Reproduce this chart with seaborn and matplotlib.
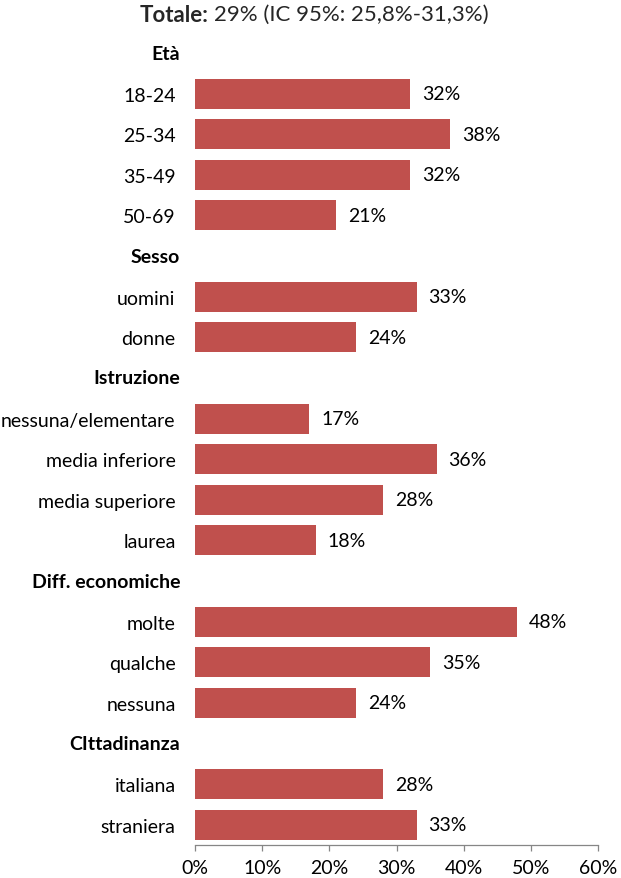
import matplotlib
matplotlib.use("Agg")
import matplotlib.pyplot as plt
import matplotlib.transforms as mtrans
import seaborn as sns
import pandas as pd
from matplotlib.ticker import PercentFormatter

# ---- data ----
groups = ["Età", "Sesso", "Istruzione", "Diff. economiche", "CIttadinanza"]
group_items = [
    ["18-24", "25-34", "35-49", "50-69"],
    ["uomini", "donne"],
    ["nessuna/elementare", "media inferiore", "media superiore", "laurea"],
    ["molte", "qualche", "nessuna"],
    ["italiana", "straniera"],
]
group_values = [
    [32, 38, 32, 21],
    [33, 24],
    [17, 36, 28, 18],
    [48, 35, 24],
    [28, 33],
]
title_bold = "Totale:"
title_rest = "29% (IC 95%: 25,8%-31,3%)"
x_ticks = [0, 10, 20, 30, 40, 50, 60]

# ---- build ordered rows ----
order = []
labels, values = [], []
for g, items, vals in zip(groups, group_items, group_values):
    order.append(g)
    for it, v in zip(items, vals):
        order.append(it)
        labels.append(it)
        values.append(v)
df = pd.DataFrame({"cat": labels, "val": values})

sns.set_theme(style="white")
plt.rcParams["font.family"] = ["Lato", "DejaVu Sans"]

fig = plt.figure(figsize=(6.21, 8.79), dpi=100)
ax = fig.add_axes([195 / 621, 1 - 846 / 879, (598 - 195) / 621, (846 - 33.7) / 879])

color = "#C0504D"
sns.barplot(data=df, x="val", y="cat", order=order, color=color,
            saturation=1, width=0.74, ax=ax, orient="h",
            edgecolor="none", linewidth=0)

ax.set_xlim(0, 60)
ax.set_ylim(len(order) - 0.5, -0.5)
ax.set_xticks(x_ticks)
ax.xaxis.set_major_formatter(PercentFormatter(decimals=0))
ax.set_xlabel("")
ax.set_ylabel("")

for s in ["top", "right", "left"]:
    ax.spines[s].set_visible(False)
ax.spines["bottom"].set_color("#868686")
ax.spines["bottom"].set_linewidth(0.9)
ax.tick_params(axis="x", direction="out", length=4, width=0.9, color="#868686",
               labelsize=14, labelcolor="black", pad=6, bottom=True)

# y tick labels: items only, headers drawn separately
ytl = [o if o not in groups else "" for o in order]
ax.set_yticks(range(len(order)))
ax.set_yticklabels(ytl, fontsize=14, color="black")
ax.tick_params(axis="y", length=0, pad=14)

# header labels (bold)
trans = mtrans.blended_transform_factory(fig.transFigure, ax.transData)
for g in groups:
    ax.text(180 / 621, order.index(g), g, transform=trans,
            ha="right", va="center", fontsize=14, fontweight="bold", color="black")

# value labels
for c in ax.containers:
    ax.bar_label(c, labels=[f"{v:.0f}%" for v in c.datavalues], padding=8.5,
                 fontsize=14, color="black")

# title
fig.text(209 / 621, 1 - 15 / 879, title_bold, ha="right", va="center",
         fontsize=16, fontweight="bold")
fig.text(214 / 621, 1 - 15 / 879, title_rest, ha="left", va="center",
         fontsize=16)

fig.savefig("out.png", dpi=100)
